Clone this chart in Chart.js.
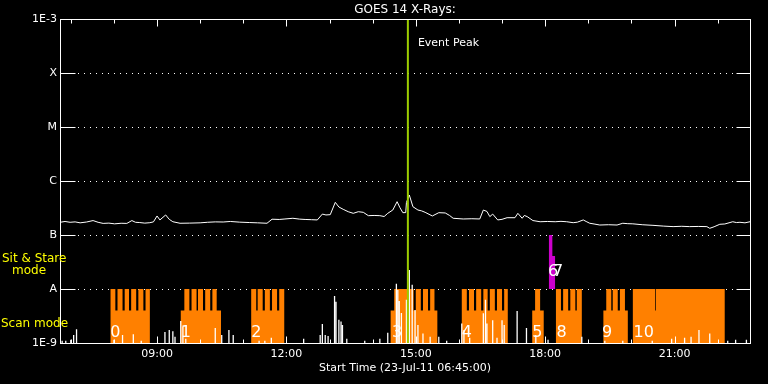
<!DOCTYPE html>
<html><head><meta charset="utf-8">
<script src="https://cdn.jsdelivr.net/npm/chart.js@4/dist/chart.umd.min.js"></script>
<style>html,body{margin:0;padding:0;background:#000;}canvas{display:block;background:#000;}</style>
</head><body>
<canvas id="c" width="768" height="384"></canvas>
<script>
// ---- axis definitions ----
const START = '06:45', END = '22:45';
const xTickLabels = ['09:00', '12:00', '15:00', '18:00', '21:00'];
const yTickValues = [1e-9, 1e-8, 1e-7, 1e-6, 1e-5, 1e-4, 1e-3];
const yTickLabels = ['1E-9', 'A', 'B', 'C', 'M', 'X', '1E-3'];

// ---- GOES 14 long channel (W/m^2) ----
const upTimes = ['06:45','06:52','06:59','07:06','07:13','07:22','07:31','07:38','07:45','07:53','08:01','08:10','08:18','08:25','08:30','08:36','08:43','08:50','08:55','09:00','09:04','09:12','09:17','09:22','09:32','09:45','10:00','10:10','10:21','10:32','10:42','10:55','11:09','11:20','11:33','11:40','11:50','11:58','12:09','12:18','12:26','12:35','12:43','12:50','12:55','13:01','13:08','13:13','13:19','13:26','13:33','13:40','13:47','13:54','14:02','14:10','14:16','14:21','14:28','14:34','14:38','14:42','14:46','14:47','14:51','14:56','15:03','15:08','15:13','15:23','15:32','15:41','15:47','15:52','16:06','16:18','16:29','16:34','16:39','16:43','16:47','16:54','17:00','17:07','17:18','17:22','17:28','17:31','17:35','17:43','17:53','18:03','18:14','18:22','18:30','18:39','18:45','18:53','18:57','19:02','19:08','19:16','19:28','19:40','19:48','19:55','20:02','20:15','20:30','20:45','20:58','21:10','21:21','21:33','21:45','21:49','21:55','22:03','22:10','22:21','22:26','22:31','22:38','22:45'];
const upFlux = [1.72e-7,1.78e-7,1.72e-7,1.75e-7,1.68e-7,1.74e-7,1.85e-7,1.72e-7,1.64e-7,1.66e-7,1.61e-7,1.65e-7,1.64e-7,1.85e-7,1.72e-7,1.70e-7,1.66e-7,1.69e-7,1.75e-7,2.25e-7,1.90e-7,2.35e-7,1.95e-7,1.76e-7,1.65e-7,1.66e-7,1.68e-7,1.72e-7,1.75e-7,1.74e-7,1.78e-7,1.73e-7,1.70e-7,1.68e-7,1.65e-7,1.96e-7,1.94e-7,1.98e-7,2.04e-7,1.97e-7,1.94e-7,1.92e-7,1.90e-7,2.44e-7,2.35e-7,2.38e-7,4.03e-7,3.3e-7,2.99e-7,2.7e-7,2.52e-7,2.7e-7,2.63e-7,2.28e-7,2.3e-7,2.28e-7,2.2e-7,2.52e-7,2.90e-7,4.14e-7,3.2e-7,2.59e-7,2.6e-7,4.0e-7,5.5e-7,3.34e-7,2.90e-7,2.8e-7,2.63e-7,2.25e-7,2.59e-7,2.56e-7,2.3e-7,2.04e-7,1.98e-7,2.0e-7,1.98e-7,2.90e-7,2.73e-7,2.19e-7,2.44e-7,1.90e-7,1.95e-7,2.09e-7,2.09e-7,2.52e-7,2.04e-7,2.3e-7,2.19e-7,1.85e-7,1.76e-7,1.78e-7,1.76e-7,1.79e-7,1.76e-7,1.69e-7,1.73e-7,1.90e-7,1.78e-7,1.65e-7,1.6e-7,1.53e-7,1.55e-7,1.53e-7,1.65e-7,1.62e-7,1.61e-7,1.55e-7,1.51e-7,1.46e-7,1.43e-7,1.45e-7,1.43e-7,1.44e-7,1.43e-7,1.33e-7,1.42e-7,1.58e-7,1.6e-7,1.76e-7,1.70e-7,1.72e-7,1.68e-7,1.76e-7];

// ---- GOES 14 short channel spikes (W/m^2) ----
const lowTimes = ['06:48','06:53','07:00','07:04','07:08','08:00','08:12','08:27','08:38','09:11','09:17','09:22','09:25','09:33','09:36','09:40','10:21','10:30','10:40','10:46','11:22','11:30','11:39','12:24','12:47','12:50','12:54','12:58','13:07','13:09','13:13','13:16','13:18','13:24','13:49','14:10','14:21','14:33','14:35','14:37','14:40','14:47','14:51','14:55','14:59','15:03','15:10','15:20','15:32','15:43','16:04','16:07','16:15','16:34','16:37','16:39','16:47','16:53','17:00','17:03','17:21','17:34','17:47','18:04','18:51','19:23','19:48','20:29','20:56','21:14','21:23','21:34','21:49','22:14','22:25','22:40'];
const lowFlux = [1.1e-9,1.1e-9,1.15e-9,1.4e-9,1.8e-9,1.15e-9,1.4e-9,1.45e-9,1.1e-9,1.6e-9,1.75e-9,1.65e-9,1.3e-9,2.55e-9,2.0e-9,1.2e-9,1.9e-9,1.4e-9,1.75e-9,1.4e-9,1.1e-9,1.1e-9,1.25e-9,1.2e-9,1.4e-9,2.25e-9,1.4e-9,1.35e-9,7.4e-9,5.8e-9,2.7e-9,2.5e-9,2.15e-9,1.2e-9,1.1e-9,1.2e-9,1.55e-9,1.25e-8,9.6e-9,6.0e-9,3.6e-9,6.3e-9,2.25e-8,1.2e-8,4.1e-9,2.15e-9,1.5e-9,1.3e-9,1.3e-9,1.1e-9,2.3e-9,1.75e-9,1.25e-9,3.55e-9,6.3e-9,2.3e-9,2.65e-9,1.25e-9,2.65e-9,2.15e-9,3.9e-9,1.9e-9,1.4e-9,1.15e-9,1.3e-9,1.1e-9,1.1e-9,1.1e-9,1.2e-9,1.25e-9,1.3e-9,1.75e-9,1.5e-9,1.1e-9,1.15e-9,1.15e-9];

// ---- Scan mode coverage (step levels; 1e-10 = off, below axis) ----
const scanTimes = ['07:55','08:02','08:05','08:12','08:15','08:21','08:24','08:31','08:34','08:41','08:44','08:50',
 '09:33','09:38','09:45','09:48','09:55','09:57','10:04','10:07','10:14','10:17','10:23','10:29',
 '11:11','11:18','11:20','11:27','11:30','11:37','11:40','11:47','11:50','11:57',
 '14:25','14:30','14:57','15:00','15:07','15:10','15:17','15:20','15:26','15:30',
 '16:04','16:11','16:14','16:21','16:24','16:31','16:34','16:40','16:43','16:50','16:53','17:00','17:03','17:08',
 '17:42','17:46','17:53','17:58',
 '18:15','18:22','18:25','18:32','18:35','18:42','18:44','18:51',
 '19:21','19:25','19:32','19:34','19:41','19:44','19:51','19:55',
 '20:02','20:33','20:34','22:10'];
const scanFlux = [1e-8,4e-9,1e-8,4e-9,1e-8,4e-9,1e-8,4e-9,1e-8,4e-9,1e-8,1e-10,
 4e-9,1e-8,4e-9,1e-8,4e-9,1e-8,4e-9,1e-8,4e-9,1e-8,4e-9,1e-10,
 1e-8,4e-9,1e-8,4e-9,1e-8,4e-9,1e-8,4e-9,1e-8,1e-10,
 4e-9,1e-8,4e-9,1e-8,4e-9,1e-8,4e-9,1e-8,4e-9,1e-10,
 1e-8,4e-9,1e-8,4e-9,1e-8,4e-9,1e-8,4e-9,1e-8,4e-9,1e-8,4e-9,1e-8,1e-10,
 4e-9,1e-8,4e-9,1e-10,
 1e-8,4e-9,1e-8,4e-9,1e-8,4e-9,1e-8,1e-10,
 4e-9,1e-8,4e-9,1e-8,4e-9,1e-8,4e-9,1e-10,
 1e-8,4e-9,1e-8,1e-10];
const scanLabels = ['0','1','2','3','4','5','8','9','10'];
const scanLabelTimes = ['08:02','09:40','11:18','14:34','16:11','17:49','18:23','19:26','20:17'];

// ---- Sit & Stare coverage ----
const stareTimes = ['18:05','18:10','18:14'];
const stareFlux = [1e-7, 4.1e-8, 1e-8];
const stareLabels = ['6','7'];
const stareLabelTimes = ['18:11','18:18'];

const eventTime = '14:49';
const eventLabel = 'Event Peak';

// ---- helpers ----
const hrs = s => { const p = s.split(':').map(Number); return p[0] + p[1] / 60; };
const pts = (ts, vs) => ts.map((t, i) => ({x: hrs(t), y: vs[i]}));
const FLOOR = 1e-10;
const spikes = (ts, vs) => { const o = []; ts.forEach((t, i) => { const h = hrs(t); o.push({x: h, y: FLOOR}, {x: h, y: vs[i]}, {x: h, y: FLOOR}); }); return o; };

const FONT = 'DejaVu Sans';

const goesPlugin = {
  id: 'goes',
  beforeDatasetsDraw(chart) {
    const {ctx, chartArea: a, scales: {y}} = chart;
    ctx.save();
    ctx.strokeStyle = '#fff';
    ctx.lineWidth = 1;
    yTickValues.slice(1, -1).forEach(v => {
      const py = Math.round(y.getPixelForValue(v)) + 0.5;
      ctx.setLineDash([1, 5]);
      ctx.beginPath(); ctx.moveTo(a.left + 18, py); ctx.lineTo(a.right - 15, py); ctx.stroke();
    });
    ctx.restore();
  },
  afterDatasetsDraw(chart) {
    const {ctx, chartArea: a, scales: {x, y}} = chart;
    ctx.save();
    ctx.strokeStyle = '#fff';
    ctx.lineWidth = 1;
    ctx.setLineDash([]);
    const L = Math.round(a.left) + 0.5, R = Math.round(a.right) + 0.5;
    const T = Math.round(a.top) + 0.5, B = Math.round(a.bottom) + 0.5;
    // solid y tick segments on both sides
    yTickValues.forEach(v => {
      const py = Math.round(y.getPixelForValue(v)) + 0.5;
      ctx.beginPath(); ctx.moveTo(L, py); ctx.lineTo(L + 15, py); ctx.stroke();
      ctx.beginPath(); ctx.moveTo(R - 14, py); ctx.lineTo(R, py); ctx.stroke();
    });
    // hourly x ticks, top and bottom, inward
    for (let h = Math.ceil(x.min); h <= Math.floor(x.max); h++) {
      const px = Math.round(x.getPixelForValue(h)) + 0.5;
      const len = (h % 3 === 0) ? 7 : 4;
      ctx.beginPath(); ctx.moveTo(px, T); ctx.lineTo(px, T + len); ctx.stroke();
      ctx.beginPath(); ctx.moveTo(px, B); ctx.lineTo(px, B - len); ctx.stroke();
    }
    // frame
    ctx.strokeRect(L, T, R - L, B - T);

    // observation numbers
    ctx.fillStyle = '#fff';
    ctx.textAlign = 'center';
    ctx.textBaseline = 'middle';
    ctx.font = '16px "' + FONT + '"';
    const ny = y.getPixelForValue(1.53e-9);
    scanLabels.forEach((s, i) => ctx.fillText(s, x.getPixelForValue(hrs(scanLabelTimes[i])), ny));
    const sy = y.getPixelForValue(2.07e-8);
    stareLabels.forEach((s, i) => ctx.fillText(s, x.getPixelForValue(hrs(stareLabelTimes[i])), sy));

    // event peak label
    ctx.textAlign = 'left';
    ctx.font = '11px "' + FONT + '"';
    ctx.fillText(eventLabel, x.getPixelForValue(hrs(eventTime)) + 10, a.top + 24);

    // mode labels in the left margin
    ctx.font = '12px "' + FONT + '"';
    ctx.fillStyle = '#ffff00';
    ctx.textAlign = 'left';
    ctx.fillText('Sit & Stare', 2, y.getPixelForValue(3.6e-8));
    ctx.fillText('mode', 12, y.getPixelForValue(2.15e-8));
    ctx.fillText('Scan mode', 1, y.getPixelForValue(2.25e-9));
    ctx.restore();
  }
};

new Chart(document.getElementById('c').getContext('2d'), {
  type: 'line',
  data: {
    datasets: [
      {label: 'Event Peak', data: [{x: hrs(eventTime), y: 1e-9}, {x: hrs(eventTime), y: 1e-3}], borderColor: '#9ccc00', borderWidth: 2, pointRadius: 0, order: 0},
      {label: 'GOES 14 1-8 A', data: pts(upTimes, upFlux), borderColor: '#ffffff', borderWidth: 1, pointRadius: 0, order: 1},
      {label: 'GOES 14 0.5-4 A', data: spikes(lowTimes, lowFlux), borderColor: '#ffffff', borderWidth: 1.3, pointRadius: 0, order: 2},
      {label: 'Sit & Stare', data: pts(stareTimes, stareFlux), stepped: true, fill: {value: 1e-8}, backgroundColor: '#cc00cc', borderWidth: 0, pointRadius: 0, order: 3},
      {label: 'Scan', data: pts(scanTimes, scanFlux), stepped: true, fill: 'start', backgroundColor: '#ff8000', borderWidth: 0, pointRadius: 0, order: 4}
    ]
  },
  options: {
    responsive: false,
    animation: false,
    devicePixelRatio: 1,
    layout: {padding: {left: 0, right: 18, top: 0, bottom: 0}},
    plugins: {
      legend: {display: false},
      tooltip: {enabled: false},
      title: {display: true, fullSize: false, text: 'GOES 14 X-Rays:', color: '#ffffff', font: {family: FONT, size: 12, weight: 'normal'}, padding: {top: 3, bottom: 1.6}}
    },
    scales: {
      x: {
        type: 'linear', min: hrs(START), max: hrs(END),
        grid: {display: false, drawTicks: false, tickLength: 0},
        border: {display: false},
        afterBuildTicks: s => { s.ticks = xTickLabels.map(l => ({value: hrs(l)})); },
        afterFit: s => { s.height = 41; },
        ticks: {color: '#ffffff', font: {family: FONT, size: 11}, padding: 5, maxRotation: 0, autoSkip: false,
          callback: (v, i) => xTickLabels[i]},
        title: {display: true, text: 'Start Time (23-Jul-11 06:45:00)', color: '#ffffff', font: {family: FONT, size: 11}, padding: {top: 0, bottom: 9.4}}
      },
      y: {
        type: 'logarithmic', min: 1e-9, max: 1e-3,
        grid: {display: false, drawTicks: false, tickLength: 0},
        border: {display: false},
        afterBuildTicks: s => { s.ticks = yTickValues.map(v => ({value: v})); },
        afterFit: s => { s.width = 60; },
        ticks: {color: '#ffffff', font: {family: FONT, size: 11}, padding: 3, autoSkip: false,
          callback: (v, i) => yTickLabels[i]}
      }
    }
  },
  plugins: [goesPlugin]
});
</script>
</body></html>
